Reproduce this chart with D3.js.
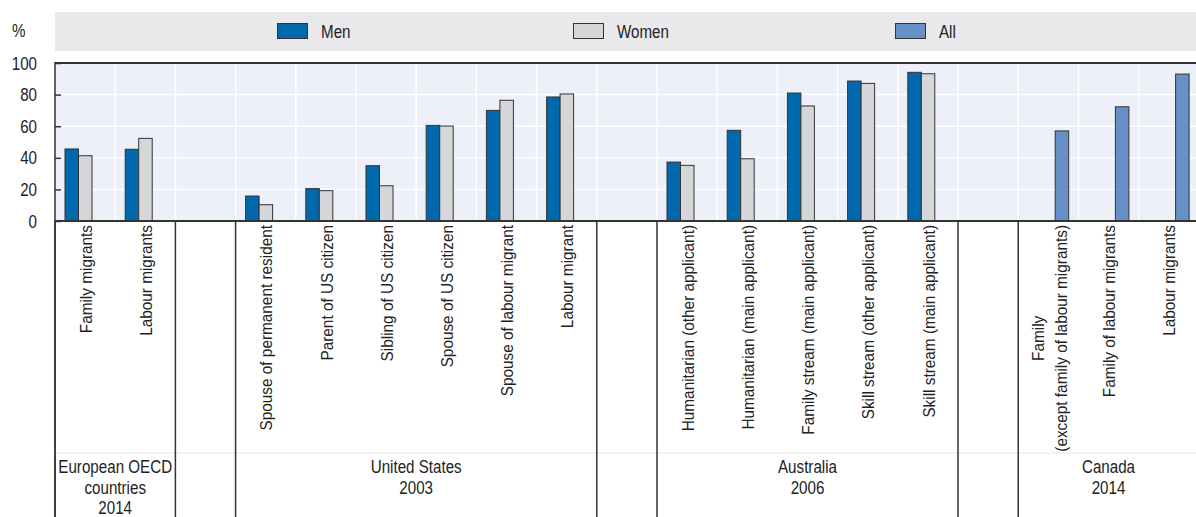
<!DOCTYPE html>
<html><head><meta charset="utf-8">
<script src="https://cdn.jsdelivr.net/npm/d3@7"></script>
<style>
body{margin:0;background:#fff;}
text{font-family:"Liberation Sans",Arial,Helvetica,sans-serif;fill:#222;}
</style></head><body>
<svg id="chart" width="1196" height="517"></svg>
<script>
const categories = ["Family migrants","Labour migrants",null,"Spouse of permanent resident","Parent of US citizen","Sibling of US citizen","Spouse of US citizen","Spouse of labour migrant","Labour migrant",null,"Humanitarian (other applicant)","Humanitarian (main applicant)","Family stream (main applicant)","Skill stream (other applicant)","Skill stream (main applicant)",null,"Family\n(except family of labour migrants)","Family of labour migrants","Labour migrants"];
const seriesNames = ["Men","Women","All"];
const menValues   = [45.6,45.4,null,15.8,20.5,35.0,60.5,70.0,78.5,null,37.3,57.4,81.0,88.6,94.1,null,null,null,null];
const womenValues = [41.3,52.3,null,10.3,19.2,22.3,60.1,76.4,80.4,null,35.2,39.4,72.8,87.1,93.2,null,null,null,null];
const allValues   = [null,null,null,null,null,null,null,null,null,null,null,null,null,null,null,null,57.0,72.3,93.0];
const yTicks = [0,20,40,60,80,100];
const groupLabels = [["European OECD","countries","2014"],["United States","2003"],["Australia","2006"],["Canada","2014"]];
const groupSpans = [[0,1],[3,8],[10,14],[16,18]];
const colors = {Men:"#0068ad", Women:"#d5d6d8", All:"#6790c7"};

const svg = d3.select("#chart");
const W = 1196, H = 517;
const L = 55, T = 63, B = 221;
const step = 60.2;
const R = L + step*categories.length;
const x0 = d3.scaleBand().domain(d3.range(categories.length)).range([L, R]).padding(0);
const x1 = d3.scaleBand().domain(seriesNames).range([10, 50.5]).padding(0);
const y = d3.scaleLinear().domain([0,100]).range([B, T]);
const dark = "#333";
const FS = 18.5, SQ = 0.82; // condensed look for horizontal texts

function htext(x, yy, str, anchor){
  return svg.append("text")
    .attr("transform",`translate(${x},${yy}) scale(${SQ},1)`)
    .attr("text-anchor",anchor||"start").attr("font-size",FS).text(str);
}

// legend
svg.append("rect").attr("x",L).attr("y",12).attr("width",W-L).attr("height",39).attr("fill","#e9e9eb");
const legendX = [277, 573, 895];
seriesNames.forEach((s,i)=>{
  svg.append("rect").attr("x",legendX[i]+0.5).attr("y",23.5).attr("width",30).attr("height",15)
    .attr("fill",colors[s]).attr("stroke",dark).attr("stroke-width",1);
  htext(legendX[i]+44, 38, s);
});
htext(12, 37, "%");

// plot background
svg.append("rect").attr("x",L).attr("y",T).attr("width",R-L).attr("height",B-T).attr("fill","#edf0f8");
// grid
svg.append("g").selectAll("line").data(yTicks.filter(d=>d>0&&d<100)).join("line")
  .attr("x1",L).attr("x2",R).attr("y1",d=>y(d)).attr("y2",d=>y(d)).attr("stroke","#fff").attr("stroke-width",1.5);
svg.append("g").selectAll("line").data(d3.range(1,categories.length)).join("line")
  .attr("x1",d=>x0(d)).attr("x2",d=>x0(d)).attr("y1",T).attr("y2",B).attr("stroke","#fff").attr("stroke-width",1.5);

// bars
const seriesValues = {Men:menValues, Women:womenValues, All:allValues};
seriesNames.forEach(s=>{
  const data = seriesValues[s].map((v,i)=>({i,v})).filter(d=>d.v!=null);
  svg.append("g").selectAll("rect").data(data).join("rect")
    .attr("x",d=>x0(d.i)+x1(s)).attr("y",d=>y(d.v))
    .attr("width",x1.bandwidth()).attr("height",d=>y(0)-y(d.v))
    .attr("fill",colors[s]).attr("stroke",dark).attr("stroke-width",1);
});

// y axis (ticks via d3 axis, labels condensed)
const yAxis = d3.axisLeft(y).tickValues(yTicks).tickSizeInner(-6).tickSizeOuter(0).tickFormat("");
const ga = svg.append("g").attr("transform",`translate(${L},0)`).call(yAxis);
ga.select(".domain").remove();
ga.selectAll("line").attr("stroke",dark).attr("stroke-width",1.5);
yTicks.forEach(t=>{ htext(37, y(t)+6.5, String(t), "end"); });

// frame
svg.append("line").attr("x1",L).attr("x2",W).attr("y1",T).attr("y2",T).attr("stroke",dark).attr("stroke-width",2);
svg.append("line").attr("x1",L).attr("x2",W).attr("y1",B).attr("y2",B).attr("stroke",dark).attr("stroke-width",2);
svg.append("line").attr("x1",L).attr("x2",L).attr("y1",T-1).attr("y2",H).attr("stroke",dark).attr("stroke-width",1.5);

// faint separator in label area
svg.append("line").attr("x1",L).attr("x2",W).attr("y1",453).attr("y2",453).attr("stroke","#e4e4e4").attr("stroke-width",1);

// group separators
groupSpans.forEach(([a,b])=>{
  [x0(a), x0(b)+x0.bandwidth()].forEach(xx=>{
    svg.append("line").attr("x1",xx).attr("x2",xx).attr("y1",B).attr("y2",H).attr("stroke",dark).attr("stroke-width",1.5);
  });
});

// category labels (rotated, slightly condensed along the text direction)
const lineH = 23, CFS = 16.5, CSQ = 0.93;
categories.forEach((c,i)=>{
  if(!c) return;
  const lines = c.split("\n");
  const g = svg.append("g").attr("transform",`translate(${x0(i)+x0.bandwidth()/2+1},225) rotate(-90) scale(${CSQ},1)`);
  if(lines.length===1){
    g.append("text").attr("text-anchor","end").attr("dy","0.35em").attr("font-size",CFS).text(c);
  } else {
    const ts = lines.map((ln,j)=>g.append("text").attr("text-anchor","middle").attr("dy","0.35em")
      .attr("y",(j-(lines.length-1)/2)*lineH).attr("font-size",CFS).text(ln));
    const maxLen = d3.max(ts, t=>t.node().getComputedTextLength());
    ts.forEach(t=>t.attr("x",-maxLen/2));
  }
});

// group labels
groupSpans.forEach(([a,b],k)=>{
  const cx = (x0(a) + x0(b)+x0.bandwidth())/2;
  groupLabels[k].forEach((ln,j)=>{ htext(cx, 473+j*20.5, ln, "middle"); });
});
</script>
</body></html>
